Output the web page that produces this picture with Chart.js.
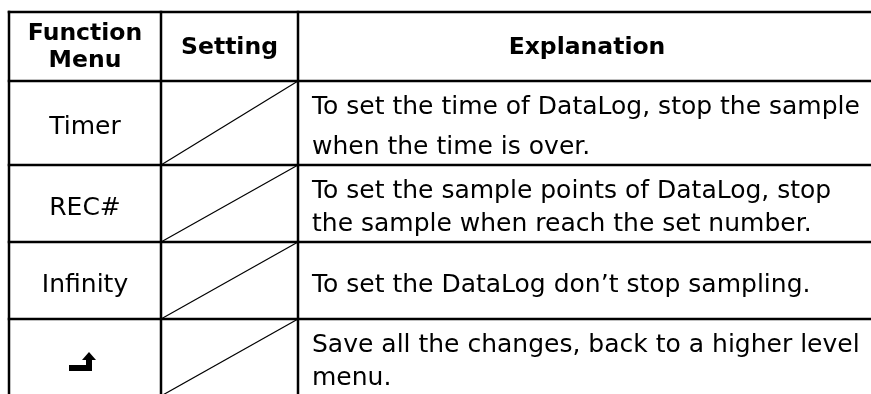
<!DOCTYPE html>
<html>
<head>
<meta charset="utf-8">
<script src="https://cdn.jsdelivr.net/npm/chart.js@4.4.0/dist/chart.umd.min.js"></script>
<style>
    html, body { margin: 0; padding: 0; background: #fff; }
</style>
</head>
<body>
<canvas id="tabla" width="871" height="394"></canvas>
<script>
// Contenido de la tabla
const headers = [['Function', 'Menu'], ['Setting'], ['Explanation']]
const functions = ['Timer', 'REC#', 'Infinity', '']
const explanations = [
    ['To set the time of DataLog, stop the sample', 'when the time is over.'],
    ['To set the sample points of DataLog, stop', 'the sample when reach the set number.'],
    ['To set the DataLog don\u2019t stop sampling.'],
    ['Save all the changes, back to a higher level', 'menu.']
]

// Layout (en unidades de la escala, = px de la imagen)
const colEdges = [9, 161, 298, 876]
const rowEdges = [12, 81, 165, 242, 319, 396]
const lineGaps = [27, 40, 33, 33, 33]

const FONT = '"DejaVu Sans", sans-serif'
const SIZE = 25
const SIZE_HEAD = 23.5

const tablaPlugin = {
    id: 'tabla',
    afterDraw(chart) {
        const ctx = chart.ctx
        const px = v => chart.scales.x.getPixelForValue(v)
        const py = v => chart.scales.y.getPixelForValue(v)
        const left = px(colEdges[0]), right = px(colEdges[colEdges.length - 1])
        const top = py(rowEdges[0]), bottom = py(rowEdges[rowEdges.length - 1])

        ctx.save()

        // diagonales de la columna Setting
        ctx.strokeStyle = '#000'
        ctx.lineWidth = 1.2
        for (let r = 1; r < rowEdges.length - 1; r++) {
            ctx.beginPath()
            ctx.moveTo(px(colEdges[1]), py(rowEdges[r + 1]))
            ctx.lineTo(px(colEdges[2]), py(rowEdges[r]))
            ctx.stroke()
        }

        // bordes
        ctx.lineWidth = 2.5
        ctx.lineCap = 'square'
        rowEdges.forEach(e => {
            ctx.beginPath()
            ctx.moveTo(left, py(e))
            ctx.lineTo(right, py(e))
            ctx.stroke()
        })
        colEdges.forEach(e => {
            ctx.beginPath()
            ctx.moveTo(px(e), top)
            ctx.lineTo(px(e), bottom)
            ctx.stroke()
        })

        ctx.fillStyle = '#000'

        function lines(texto, r, xPos, align, bold) {
            const size = bold ? SIZE_HEAD : SIZE
            const cap = size * 0.73
            const mid = (py(rowEdges[r]) + py(rowEdges[r + 1])) / 2 + (r === 0 ? -1.5 : 2)
            const gap = lineGaps[r]
            ctx.font = (bold ? 'bold ' : '') + size + 'px ' + FONT
            ctx.textAlign = align
            ctx.textBaseline = 'alphabetic'
            texto.forEach((t, i) => {
                const yb = mid + (i - (texto.length - 1) / 2) * gap + cap / 2
                ctx.fillText(t, xPos, yb)
            })
        }

        const colMid = c => (px(colEdges[c]) + px(colEdges[c + 1])) / 2

        // encabezados
        headers.forEach((h, c) => lines(h, 0, colMid(c), 'center', true))

        // filas
        functions.forEach((f, i) => {
            if (f) lines([f], i + 1, colMid(0), 'center', false)
            lines(explanations[i], i + 1, px(colEdges[2]) + 14, 'left', false)
        })

        // icono de volver (fila final)
        const cx = colMid(0), cy = (py(rowEdges[4]) + py(rowEdges[5])) / 2
        ctx.fillRect(cx - 16, cy + 7.5, 23, 6)
        ctx.fillRect(cx + 1, cy + 0.5, 6, 13)
        ctx.beginPath()
        ctx.moveTo(cx - 3, cy + 2.5)
        ctx.lineTo(cx + 11, cy + 2.5)
        ctx.lineTo(cx + 4, cy - 5.5)
        ctx.closePath()
        ctx.fill()

        ctx.restore()
    }
}

new Chart(document.getElementById('tabla'), {
    type: 'scatter',
    data: { datasets: [] },
    options: {
        responsive: false,
        animation: false,
        devicePixelRatio: 1,
        layout: { padding: 0 },
        plugins: { legend: { display: false }, tooltip: { enabled: false } },
        scales: {
            x: { type: 'linear', min: 0, max: 871, display: false },
            y: { type: 'linear', min: 0, max: 394, reverse: true, display: false }
        }
    },
    plugins: [tablaPlugin]
})
</script>
</body>
</html>
